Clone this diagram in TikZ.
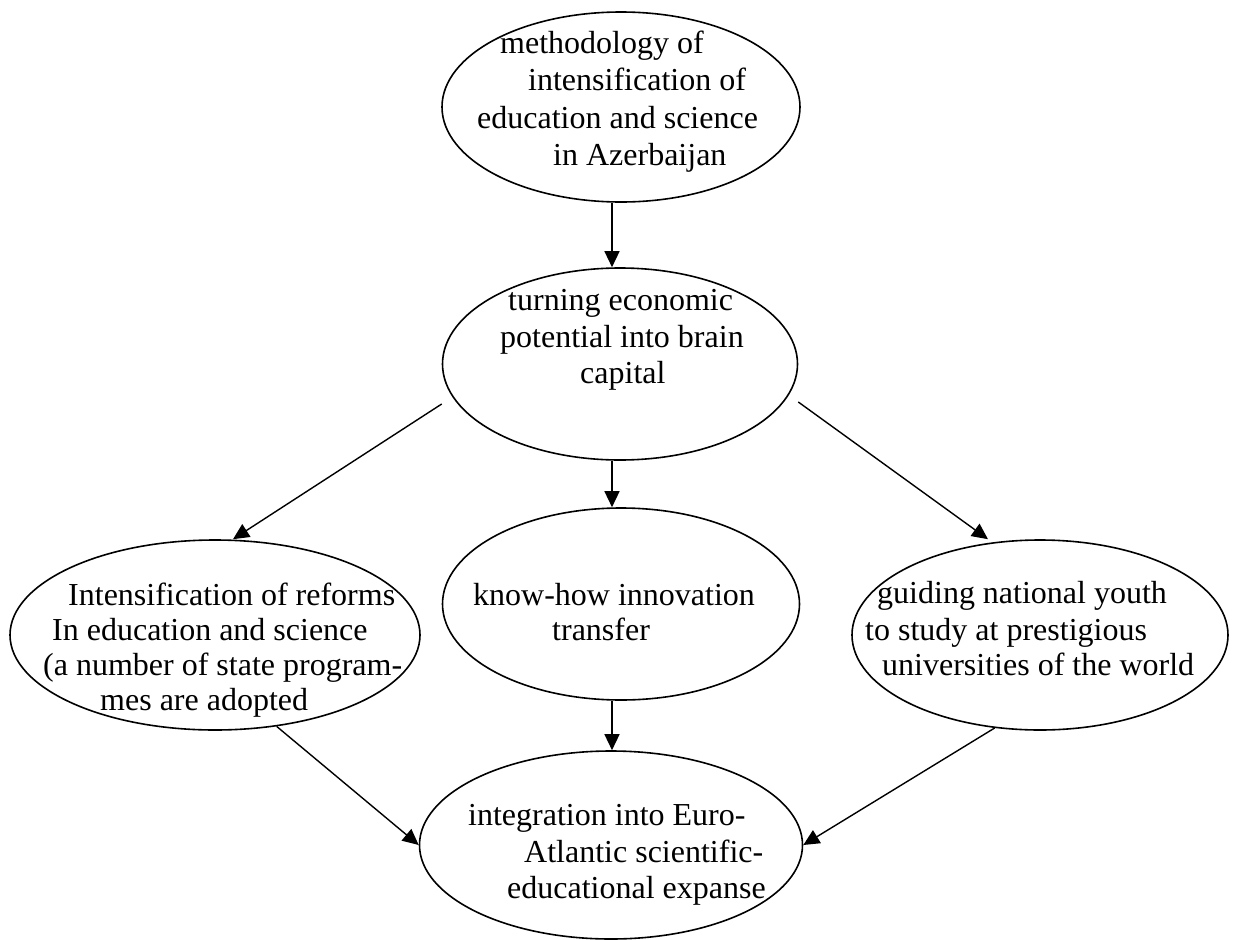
\documentclass[tikz,border=0pt]{standalone}
\usepackage{fontspec}
\setmainfont{Liberation Serif}
\usetikzlibrary{shapes.geometric,arrows.meta}
\begin{document}
\begin{tikzpicture}[x=1pt,y=-1pt,
  ell/.style={draw, ellipse, line width=1.6pt, inner sep=0pt},
  txt/.style={anchor=base west, inner sep=0pt, font=\fontsize{32}{37}\selectfont},
  arr/.style={line width=1.4pt, -{Triangle[length=16pt,width=15pt]}}]
\useasboundingbox (0,0) rectangle (1235,940);
% ellipses
\node[ell, minimum width=358pt, minimum height=190pt] (top) at (621,107) {};
\node[ell, minimum width=355pt, minimum height=192pt] (cap) at (620,364) {};
\node[ell, minimum width=410pt, minimum height=190pt] (lft) at (215,635) {};
\node[ell, minimum width=357pt, minimum height=192pt] (mid) at (621,604) {};
\node[ell, minimum width=376pt, minimum height=190pt] (rgt) at (1040,635) {};
\node[ell, minimum width=383pt, minimum height=188pt] (bot) at (611,845) {};
% texts
\node[txt] (t1) at (500,53) {methodology of};
\node[txt] (t2) at (528,90) {intensification of};
\node[txt] (t3) at (477,128) {education and science};
\node[txt] (t4) at (553,165) {in Azerbaijan};
\node[txt] (t5) at (508,310) {turning economic};
\node[txt] (t6) at (500,347) {potential into brain};
\node[txt] (t7) at (580,383) {capital};
\node[txt] (t8) at (473,605) {know-how innovation};
\node[txt] (t9) at (552,640) {transfer};
\node[txt] (t10) at (68,605) {Intensification of reforms};
\node[txt] (t11) at (52,640) {In education and science};
\node[txt] (t12) at (43,675) {(a number of state program-};
\node[txt] (t13) at (100,710) {mes are adopted};
\node[txt] (t14) at (877,603) {guiding national youth};
\node[txt] (t15) at (865,640) {to study at prestigious};
\node[txt] (t16) at (882,675) {universities of the world};
\node[txt] (t17) at (468,825) {integration into Euro-};
\node[txt] (t18) at (524,862) {Atlantic scientific-};
\node[txt] (t19) at (507,898) {educational expanse};
% connectors
\draw[arr] ([xshift=-9pt]top.south) -- ([xshift=-8pt]cap.north);
\draw[arr] ([yshift=-40pt]cap.west) -- ([xshift=18pt]lft.north);
\draw[arr] ([xshift=-8pt]cap.south) -- ([xshift=-9pt]mid.north);
\draw[arr] ([yshift=-38pt]cap.east) -- ([xshift=-52pt]rgt.north);
\draw[arr] (lft.-56) -- (bot.west);
\draw[arr] ([xshift=-9pt]mid.south) -- ([xshift=1pt]bot.north);
\draw[arr] (rgt.-116) -- (bot.east);
\end{tikzpicture}
\end{document}
